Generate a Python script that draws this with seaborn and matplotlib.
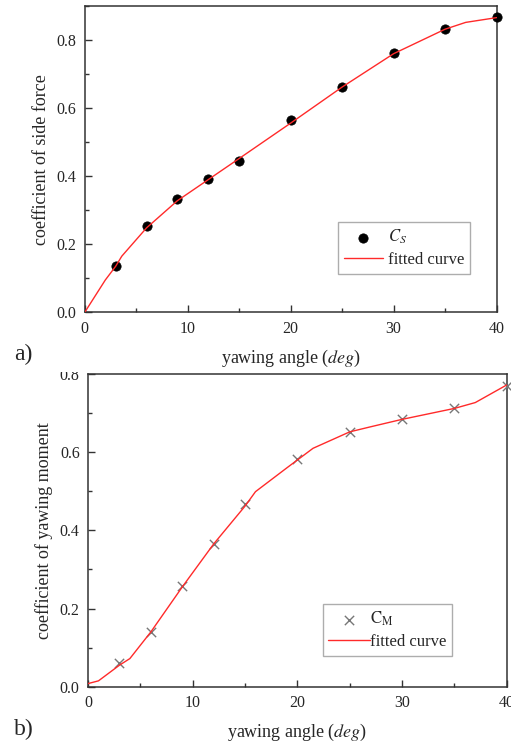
import matplotlib
matplotlib.use("Agg")
import matplotlib.pyplot as plt
from matplotlib.ticker import MultipleLocator
from matplotlib.patches import Rectangle
import seaborn as sns
import pandas as pd

# Measured side-force coefficient
yaw_cs = [3, 6, 9, 12, 15, 20, 25, 30, 35, 40]
cs_values = [0.136, 0.253, 0.334, 0.392, 0.445, 0.566, 0.662, 0.762, 0.834, 0.868]
# Fitted side-force curve
fit_cs_x = [0, 1.2, 2, 3, 3.6, 6, 9, 12, 15, 20, 25, 30, 35, 37, 40]
fit_cs_y = [0.0, 0.057, 0.095, 0.135, 0.165, 0.248, 0.328, 0.390, 0.452, 0.556, 0.662, 0.760, 0.832, 0.852, 0.866]

# Measured yawing-moment coefficient
yaw_cm = [3, 6, 9, 12, 15, 20, 25, 30, 35, 40]
cm_values = [0.060, 0.141, 0.258, 0.364, 0.467, 0.582, 0.652, 0.685, 0.714, 0.770]
# Fitted yawing-moment curve
fit_cm_x = [0, 1, 3, 4, 6, 9, 12, 15, 16, 19, 20, 21.5, 25, 27, 30, 35, 37, 40]
fit_cm_y = [0.008, 0.015, 0.055, 0.072, 0.140, 0.255, 0.365, 0.462, 0.499, 0.560, 0.580, 0.610, 0.652, 0.665, 0.684, 0.712, 0.727, 0.772]

x_ticks = [0, 10, 20, 30, 40]
y_ticks = [0.0, 0.2, 0.4, 0.6, 0.8]

sns.set_style("ticks")
plt.rcParams["font.family"] = ["Liberation Serif", "DejaVu Serif"]
plt.rcParams["mathtext.fontset"] = "stix"

fig = plt.figure(figsize=(5.11, 7.47), dpi=100)
ax1 = fig.add_axes([0.1658, 0.5819, 0.806, 0.410])
ax2 = fig.add_axes([0.1722, 0.0807, 0.8194, 0.4186])

red = "#ff2a2a"
frame = "#333333"

cs_df = pd.DataFrame({"x": yaw_cs, "y": cs_values})
fit1_df = pd.DataFrame({"x": fit_cs_x, "y": fit_cs_y})
cm_df = pd.DataFrame({"x": yaw_cm, "y": cm_values})
fit2_df = pd.DataFrame({"x": fit_cm_x, "y": fit_cm_y})

sns.scatterplot(data=cs_df, x="x", y="y", ax=ax1, color="black", marker="o",
                s=45, edgecolor="black", linewidth=0.5, label=r"$C_S$", zorder=3,
                clip_on=False)
sns.lineplot(data=fit1_df, x="x", y="y", ax=ax1, color=red, linewidth=1.0,
             label="fitted curve", zorder=4, estimator=None, sort=False)

sns.scatterplot(data=cm_df, x="x", y="y", ax=ax2, color="#777777", marker="x",
                s=45, linewidth=1.0, label=r"$\mathrm{C_M}$", zorder=3,
                clip_on=False)
sns.lineplot(data=fit2_df, x="x", y="y", ax=ax2, color=red, linewidth=1.0,
             label="fitted curve", zorder=4, estimator=None, sort=False)

for ax, ylab, ymax in [(ax1, "coefficient of side force", 0.9),
                       (ax2, "coefficient of yawing moment", 0.8)]:
    ax.set_xlim(0, 40)
    ax.set_ylim(0, ymax)
    ax.set_xticks(x_ticks)
    ax.set_yticks(y_ticks)
    ax.set_yticklabels([f"{v:.1f}" for v in y_ticks])
    ax.xaxis.set_minor_locator(MultipleLocator(5))
    ax.yaxis.set_minor_locator(MultipleLocator(0.1))
    ax.tick_params(which="major", direction="in", length=5, width=1.0,
                   color=frame, labelsize=11.5, pad=6, top=False, right=False)
    ax.tick_params(which="minor", direction="in", length=3, width=1.0,
                   color=frame, top=False, right=False)
    for sp in ax.spines.values():
        sp.set_visible(True)
        sp.set_color(frame)
        sp.set_linewidth(1.1)
    ax.set_xlabel(r"yawing angle ($\mathit{deg}$)", fontsize=13, labelpad=8)
    ax.set_ylabel(ylab, fontsize=13, labelpad=5)

leg1 = ax1.legend(loc="lower right", bbox_to_anchor=(0.935, 0.125), fontsize=12,
                  frameon=True, fancybox=False, edgecolor="#999999",
                  borderpad=0.35, handlelength=2.3, handletextpad=0.3,
                  labelspacing=0.35, borderaxespad=0)
leg1.get_frame().set_linewidth(1.0)
leg2 = ax2.legend(loc="lower right", bbox_to_anchor=(0.87, 0.098), fontsize=12,
                  frameon=True, fancybox=False, edgecolor="#999999",
                  borderpad=0.35, handlelength=2.5, handletextpad=0.0,
                  labelspacing=0.35, borderaxespad=0)
leg2.get_frame().set_linewidth(1.0)

# Panel (a) image edge overlaps the top of panel (b)'s highest tick label
fig.patches.append(Rectangle((45 / 511, 1 - 372 / 747), 42 / 511, 12 / 747,
                             transform=fig.transFigure, facecolor="white",
                             edgecolor="none", zorder=10))

fig.text(0.027, 0.525, "a)", fontsize=17, va="center", ha="left")
fig.text(0.027, 0.024, "b)", fontsize=17, va="center", ha="left")

fig.savefig("out.png", dpi=100)
